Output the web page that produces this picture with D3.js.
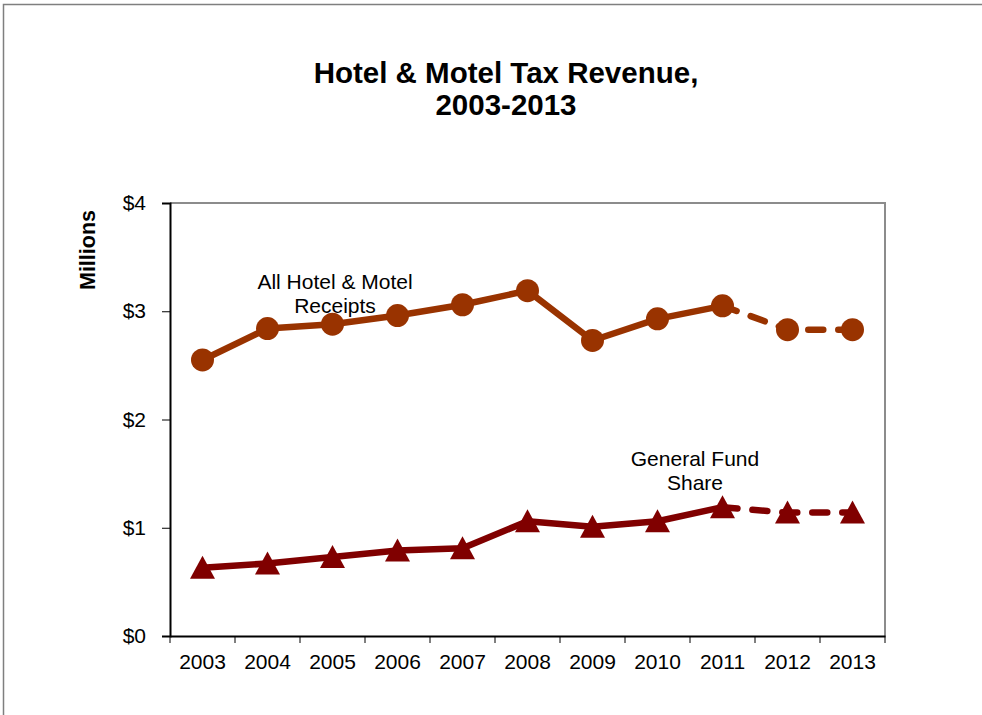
<!DOCTYPE html>
<html>
<head>
<meta charset="utf-8">
<script src="https://cdn.jsdelivr.net/npm/d3@7"></script>
<style>
  body { margin: 0; background: #fff; }
  svg { display: block; font-family: "Liberation Sans", Arial, sans-serif; }
</style>
</head>
<body>
<svg width="982" height="715"></svg>
<script>
// chart data
var years = ["2003", "2004", "2005", "2006", "2007", "2008", "2009", "2010", "2011", "2012", "2013"];
var allReceipts = [2.55, 2.84, 2.88, 2.96, 3.06, 3.19, 2.73, 2.93, 3.05, 2.83, 2.83];
var generalFund = [0.63, 0.67, 0.73, 0.79, 0.81, 1.06, 1.01, 1.06, 1.19, 1.14, 1.14];
var yTicks = [0, 1, 2, 3, 4];
var lastActual = "2011"; // after this the lines are dashed (estimates)

var m = { top: 203, right: 97, bottom: 79, left: 170 };
var W = 982, H = 715;
var w = W - m.left - m.right;
var h = H - m.top - m.bottom;
var FONT = "Liberation Sans, Arial, sans-serif";

var svg = d3.select("svg");

// outer frame (top + left visible)
svg.append("path")
  .attr("d", "M3.5,715 L3.5,4.5 L982,4.5")
  .attr("fill", "none")
  .attr("stroke", "#7f7f7f")
  .attr("stroke-width", 1.5);

// title
var title = svg.append("text")
  .attr("text-anchor", "middle")
  .attr("font-size", 29.5)
  .attr("font-weight", "bold")
  .attr("fill", "#000");
title.append("tspan").attr("x", 506).attr("y", 83).text("Hotel & Motel Tax Revenue,");
title.append("tspan").attr("x", 506).attr("y", 115).text("2003-2013");

var x = d3.scaleBand().domain(years).range([0, w]);
var y = d3.scaleLinear().domain([0, 4]).range([h, 0]);
var cx = function(d) { return x(d) + x.bandwidth() / 2; };

var g = svg.append("g").attr("transform", "translate(" + m.left + "," + m.top + ")");

// plot area frame (top and right grey)
g.append("path")
  .attr("d", "M0,0 L" + w + ",0 L" + w + "," + h)
  .attr("fill", "none")
  .attr("stroke", "#8c8c8c")
  .attr("stroke-width", 2);

// y axis
var yAxis = g.append("g")
  .call(d3.axisLeft(y).tickValues(yTicks).tickSize(8).tickPadding(16)
    .tickFormat(function(d) { return "$" + d; }));
yAxis.select(".domain").attr("stroke", "#000").attr("stroke-width", 2);
yAxis.selectAll(".tick line").attr("stroke", "#000");
yAxis.selectAll(".tick text").attr("font-size", 21).attr("fill", "#000")
  .attr("font-family", FONT);

// x axis, ticks between categories
var xAxis = g.append("g").attr("transform", "translate(0," + h + ")")
  .call(d3.axisBottom(x).tickSize(0).tickPadding(18));
xAxis.select(".domain").attr("stroke", "#000").attr("stroke-width", 2);
xAxis.selectAll(".tick text").attr("font-size", 21).attr("fill", "#000")
  .attr("font-family", FONT);
xAxis.selectAll(".sep")
  .data(years.concat(["end"]))
  .enter().append("line")
  .attr("class", "sep")
  .attr("x1", function(d, i) { return i * x.step(); })
  .attr("x2", function(d, i) { return i * x.step(); })
  .attr("y1", 0).attr("y2", 7)
  .attr("stroke", "#000");

// y axis title
svg.append("text")
  .attr("transform", "translate(95,250) rotate(-90)")
  .attr("text-anchor", "middle")
  .attr("font-size", 21.5)
  .attr("font-weight", "bold")
  .text("Millions");

function drawSeries(values, color, marker) {
  var pts = years.map(function(yr, i) { return { year: yr, v: values[i] }; });
  var cut = years.indexOf(lastActual);
  var line = d3.line().x(function(d) { return cx(d.year); }).y(function(d) { return y(d.v); });

  g.append("path")
    .attr("d", line(pts.slice(0, cut + 1)))
    .attr("fill", "none")
    .attr("stroke", color)
    .attr("stroke-width", 6.5)
    .attr("stroke-linejoin", "round");

  g.append("path")
    .attr("d", line(pts.slice(cut)))
    .attr("fill", "none")
    .attr("stroke", color)
    .attr("stroke-width", 6.5)
    .attr("stroke-linecap", "round")
    .attr("stroke-dasharray", "15,15");

  if (marker === "circle") {
    g.selectAll(".c").data(pts).enter().append("circle")
      .attr("cx", function(d) { return cx(d.year); })
      .attr("cy", function(d) { return y(d.v); })
      .attr("r", 11.5)
      .attr("fill", color);
  } else {
    g.selectAll(".t").data(pts).enter().append("path")
      .attr("d", "M0,-12 L12.5,11 L-12.5,11 Z")
      .attr("transform", function(d) { return "translate(" + cx(d.year) + "," + y(d.v) + ")"; })
      .attr("fill", color);
  }
}

drawSeries(allReceipts, "#993300", "circle");
drawSeries(generalFund, "#800000", "triangle");

// annotations
function label(px, py, lines) {
  var t = svg.append("text").attr("text-anchor", "middle").attr("font-size", 21).attr("fill", "#000");
  lines.forEach(function(s, i) {
    t.append("tspan").attr("x", px).attr("y", py + i * 24).text(s);
  });
}
label(335, 289, ["All Hotel & Motel", "Receipts"]);
label(695, 466, ["General Fund", "Share"]);
</script>
</body>
</html>
